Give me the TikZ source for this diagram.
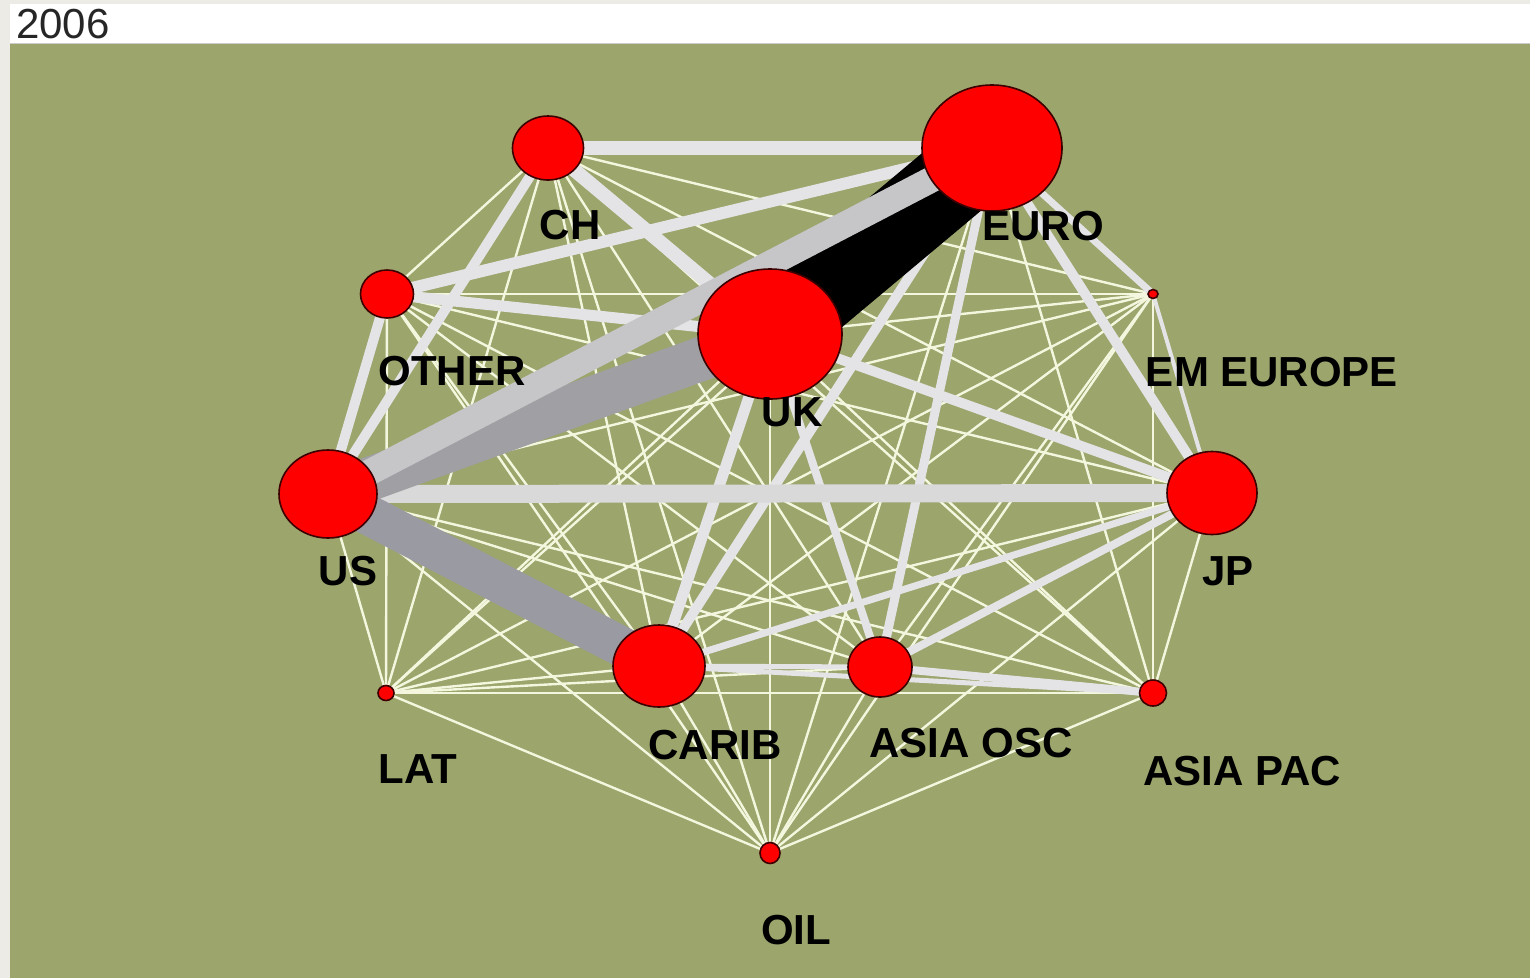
\documentclass[tikz,border=0pt]{standalone}
\usepackage{fontspec}
\setmainfont{Liberation Sans}
\usetikzlibrary{shapes.geometric}
\pgfdeclarelayer{panel}
\pgfdeclarelayer{edges}
\pgfsetlayers{panel,edges,main}

\definecolor{framegray}{RGB}{236,235,230}
\definecolor{fieldgreen}{RGB}{155,165,108}
\definecolor{cream}{RGB}{244,247,222}
\definecolor{paleband}{RGB}{228,228,230}
\definecolor{greyband}{RGB}{198,198,200}
\definecolor{darkband}{RGB}{160,160,164}
\definecolor{slateband}{RGB}{154,154,162}
\definecolor{nodered}{RGB}{255,0,0}
\definecolor{noderim}{RGB}{60,0,0}

\tikzset{
  country/.style={ellipse, fill=nodered, draw=noderim, line width=1.6pt, inner sep=0pt},
  tag/.style={font=\fontsize{42}{42}\selectfont\bfseries, text=black, inner sep=0pt},
  flow/.style={line width=#1, draw=paleband, line cap=butt},
  weak/.style={line width=2.4pt, draw=cream, line cap=butt},
}

\begin{document}
\begin{tikzpicture}[x=1pt, y=-1pt]
\useasboundingbox (0,0) rectangle (1530,978);

% frame, title strip and plotting field
\begin{pgfonlayer}{panel}
  \fill[framegray] (0,0) rectangle (1530,978);
  \fill[white] (10,4) rectangle (1530,43);
  \fill[fieldgreen] (10,43) rectangle (1530,978);
  \draw[line width=1pt, draw=black!20] (10,43) -- (1530,43);
\end{pgfonlayer}

\node[anchor=west, font=\fontsize{42}{42}\selectfont, text=black!85, inner sep=0pt] (year) at (16,24) {2006};

% countries and regions
\node[country, minimum width=71pt, minimum height=64pt]  (CH)    at (548,148) {};
\node[country, minimum width=140pt, minimum height=126pt] (EURO) at (992,148) {};
\node[country, minimum width=53pt, minimum height=48pt]  (OTHER) at (387,294) {};
\node[country, minimum width=10pt, minimum height=9pt]   (EME)   at (1153,294) {};
\node[country, minimum width=144pt, minimum height=130pt] (UK)   at (770,334) {};
\node[country, minimum width=98pt, minimum height=88pt]  (US)    at (328,494) {};
\node[country, minimum width=90pt, minimum height=83pt]  (JP)    at (1212,493) {};
\node[country, minimum width=16pt, minimum height=15pt]  (LAT)   at (386,693) {};
\node[country, minimum width=92pt, minimum height=82pt]  (CARIB) at (659,666) {};
\node[country, minimum width=64pt, minimum height=60pt]  (AOSC)  at (880,667) {};
\node[country, minimum width=27pt, minimum height=26pt]  (APAC)  at (1153,693) {};
\node[country, minimum width=20pt, minimum height=21pt]  (OIL)   at (770,853) {};

% labels
\node[tag] (tCH)    at (570,225) {CH};
\node[tag] (tEURO)  at (1043,226) {EURO};
\node[tag] (tOTHER) at (452,371) {OTHER};
\node[tag] (tEME)   at (1272,372) {EM EUROPE};
\node[tag] (tUK)    at (792,412) {UK};
\node[tag] (tUS)    at (348,571) {US};
\node[tag] (tJP)    at (1228,571) {JP};
\node[tag] (tLAT)   at (418,769) {LAT};
\node[tag] (tCARIB) at (715,745) {CARIB};
\node[tag] (tAOSC)  at (971,743) {ASIA OSC};
\node[tag] (tAPAC)  at (1242,771) {ASIA PAC};
\node[tag] (tOIL)   at (796,930) {OIL};

\begin{pgfonlayer}{edges}
  % every pair is linked by at least a weak flow
  \foreach \a [count=\i] in {CH,EURO,OTHER,EME,UK,US,JP,LAT,CARIB,AOSC,APAC,OIL}{
    \foreach \b [count=\j] in {CH,EURO,OTHER,EME,UK,US,JP,LAT,CARIB,AOSC,APAC,OIL}{
      \ifnum\j>\i
        \draw[weak] (\a.center) -- (\b.center);
      \fi
    }
  }
  % moderate flows
  \foreach \a/\b/\w in {
      EME/JP/4pt, CARIB/APAC/5pt, CARIB/AOSC/5pt, EURO/EME/7pt,
      JP/CARIB/7pt, JP/AOSC/8pt, AOSC/APAC/8pt, UK/AOSC/8pt,
      EURO/AOSC/9pt, CH/US/10pt, OTHER/US/10pt, EURO/JP/10pt,
      EURO/CARIB/10pt, UK/JP/10pt, UK/CARIB/11pt, OTHER/UK/11pt,
      OTHER/EURO/12pt}
    \draw[flow=\w] (\a.center) -- (\b.center);
  \draw[flow=14pt, draw=paleband] (CH.center) -- (UK.center);
  \draw[flow=14pt, draw=paleband] (CH.center) -- (EURO.center);
  \draw[flow=18pt, draw=paleband!95!black] (US.center) -- (JP.center);
  % heavy flows
  \draw[line width=82pt, draw=black] (UK.center) -- (EURO.center);
  \draw[line width=44pt, draw=darkband] (US.center) -- (UK.center);
  \draw[line width=40pt, draw=slateband] (US.center) -- (CARIB.center);
  \draw[line width=26pt, draw=greyband] (US.center) -- (EURO.center);
\end{pgfonlayer}
\end{tikzpicture}
\end{document}
